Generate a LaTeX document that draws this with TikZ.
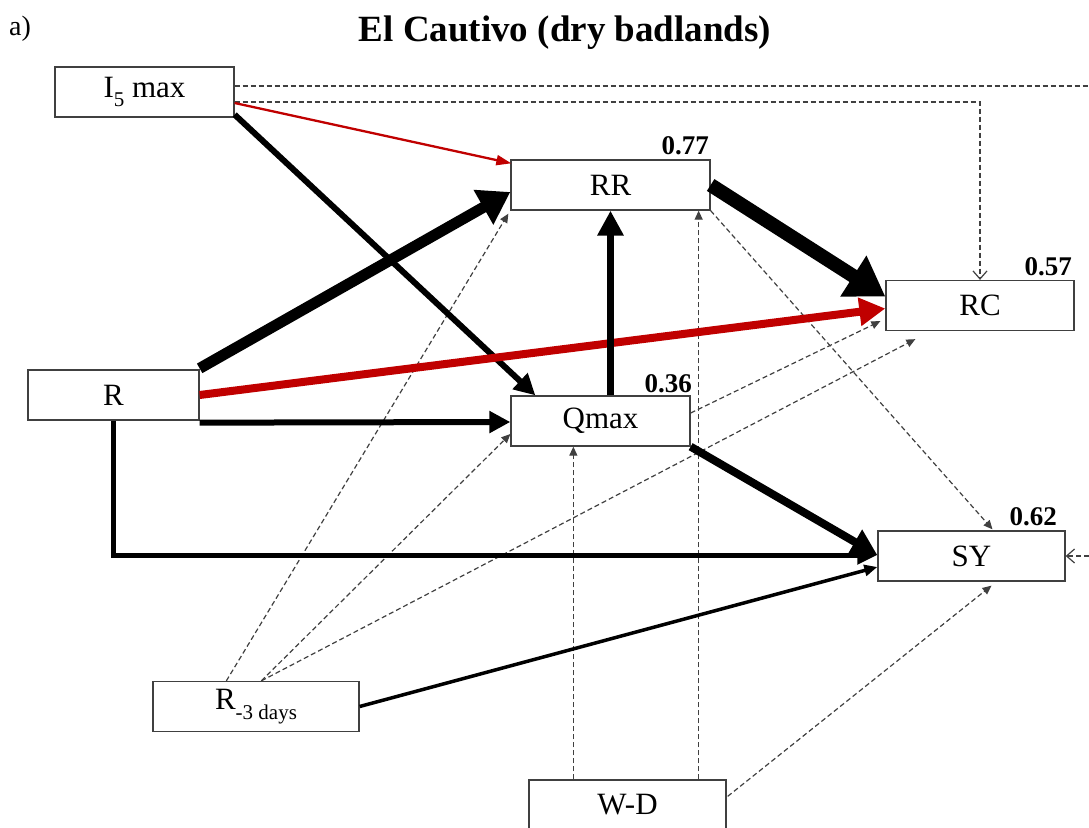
\documentclass[tikz,border=0pt]{standalone}
\usepackage{fontspec}
\setmainfont{Liberation Serif}
\usetikzlibrary{arrows.meta,calc}
\definecolor{pathred}{HTML}{C00000}
\definecolor{boxline}{HTML}{404040}
\newcommand{\lowsub}[1]{\raisebox{-0.3em}{\fontsize{21}{21}\selectfont #1}}

\begin{document}
\begin{tikzpicture}[x=1pt,y=-1pt,
  var/.style={draw=boxline, line width=1.3pt, fill=white, minimum height=50pt,
              font=\fontsize{31}{36}\selectfont, inner sep=0pt},
  rsq/.style={font=\bfseries\fontsize{27}{30}\selectfont, anchor=base east, inner sep=0pt},
  nonsig/.style={dash pattern=on 5pt off 3pt, line width=1.2pt, draw=boxline,
                 -{Triangle[length=9pt,width=8pt]}},
  opentip/.style={dash pattern=on 5pt off 3pt, line width=1.2pt, draw=boxline,
                  -{Straight Barb[length=8pt,width=14pt]}},
  pw14/.style={line width=14pt, -{Triangle[length=38pt,width=46pt]}},
  pw11/.style={line width=11pt, -{Triangle[length=31pt,width=38pt]}},
  pw8/.style={line width=8pt, -{Triangle[length=26pt,width=27pt]}},
  pw7/.style={line width=7pt, -{Triangle[length=25pt,width=25pt]}},
  pw6/.style={line width=6pt, -{Triangle[length=21pt,width=21pt]}},
  pw5/.style={line width=5pt, -{Triangle[length=20pt,width=18pt]}},
  pw3/.style={line width=3.5pt, -{Triangle[length=13pt,width=11pt]}},
  pw2/.style={line width=2.3pt, -{Triangle[length=15pt,width=10pt]}},
]
\useasboundingbox (0,0) rectangle (1089,827);

% heading and panel tag
\node[anchor=base west, inner sep=0pt, font=\fontsize{28}{30}\selectfont] (tag) at (9,35) {a)};
\node[anchor=base, inner sep=0pt, font=\bfseries\fontsize{37}{40}\selectfont] (title) at (565,41) {El Cautivo (dry badlands)};

% variables
\node[var, minimum width=179pt] (I5) at (144.5,92) {I\lowsub{5} max};
\node[var, minimum width=199pt] (RR) at (610.5,185) {RR};
\node[var, minimum width=188pt] (RC) at (980,305.5) {RC};
\node[var, minimum width=171pt] (R) at (113.5,395) {R};
\node[var, minimum width=179pt] (Qmax) at (600.5,421) {Qmax};
\node[var, minimum width=187pt] (SY) at (971.5,556) {SY};
\node[var, minimum width=206pt] (R3) at (256,706.5) {R\lowsub{-3 days}};
\node[var, minimum width=197pt] (WD) at (627.5,805) {W-D};

% explained variance
\node[rsq] (r2RR) at (709,154) {0.77};
\node[rsq] (r2RC) at (1072,275) {0.57};
\node[rsq] (r2Q) at (692,392) {0.36};
\node[rsq] (r2SY) at (1057,525) {0.62};

% non-significant paths
\draw[opentip] ($(I5.east)+(0,10)$) -| (RC.north);
\draw[opentip] ($(I5.east)+(0,-6)$) -- ($(I5.east)+(900,-6)$) |- (SY.east);
\draw[nonsig] ($(R3.north west)+(74,0)$) -- ($(RR.south west)+(-2,3)$);
\draw[nonsig] ($(R3.north west)+(109,0)$) -- ($(Qmax.west)+(0,13)$);
\draw[nonsig] ($(R3.north west)+(109,0)$) -- ($(RC.south west)+(30,8)$);
\draw[nonsig] ($(Qmax.east)+(0,-8)$) -- ($(RC.south west)+(-5,-10)$);
\coordinate (wdA) at ($(WD.north west)+(45,0)$);
\coordinate (wdB) at ($(WD.north east)+(-28,0)$);
\draw[nonsig] (wdA) -- (wdA |- Qmax.south);
\draw[nonsig] (wdB) -- (wdB |- RR.south);
\draw[nonsig] ($(WD.north east)+(1,17)$) -- ($(SY.south)+(20,4)$);
\draw[nonsig] (RR.south east) -- ($(SY.north)+(21,-1)$);

% significant paths
\draw[pw2, pathred] ($(I5.east)+(0,11)$) -- ($(RR.north west)+(1,4)$);
\draw[pw6] ($(I5.south east)+(0,-3)$) -- ($(Qmax.north west)+(25,0)$);
\draw[pw11] ($(R.north east)+(0,-1)$) -- ($(RR.west)+(0,7)$);
\draw[pw8, pathred] (R.east) -- ($(RC.west)+(0,3)$);
\draw[pw6] ($(R.south east)+(0,2)$) -- ($(Qmax.west)+(0,1)$);
\draw[pw5] (R.south) |- ($(SY.west)+(0,-1)$);
\draw[pw7] (RR.south |- Qmax.north) -- (RR.south);
\draw[pw14] (RR.east) -- ($(RC.west)+(0,-9)$);
\draw[pw8] (Qmax.south east) -- ($(SY.west)+(0,-1)$);
\draw[pw3] (R3.east) -- ($(SY.west)+(0,11)$);
\end{tikzpicture}
\end{document}
